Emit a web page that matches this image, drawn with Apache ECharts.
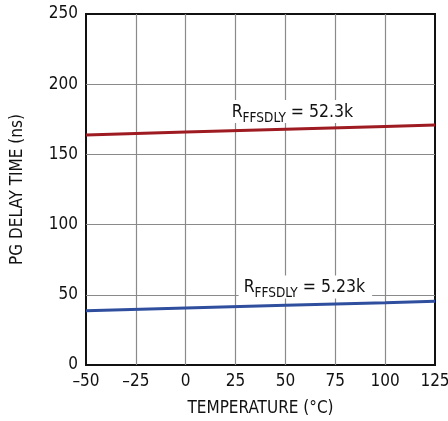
<!DOCTYPE html>
<html>
<head>
<meta charset="utf-8">
<script src="https://cdn.jsdelivr.net/npm/echarts@6/dist/echarts.min.js"></script>
<style>html,body{margin:0;padding:0;background:#fff}#c{width:448px;height:421px}</style>
</head>
<body>
<div id="c"></div>
<script>
const temperatures = [-50, 0, 50, 100, 125];
const delay52k = [163.8, 165.9, 167.9, 169.9, 170.9];
const delay5k = [38.7, 40.6, 42.5, 44.4, 45.4];
const xTicks = [-50, -25, 0, 25, 50, 75, 100, 125];
const yTicks = [0, 50, 100, 150, 200, 250];
const labels = [
  { sub: 'FFSDLY', rest: ' = 52.3k', at: [54, 180.5] },
  { sub: 'FFSDLY', rest: ' = 5.23k', at: [60, 55.5] }
];

const FONT = "'Liberation Sans Narrow', 'DejaVu Sans Condensed', sans-serif";
const chart = echarts.init(document.getElementById('c'), null, { renderer: 'canvas' });

function pairs(xs, ys) { return xs.map((x, i) => [x, ys[i]]); }

function labelPoint(l) {
  return {
    symbol: 'rect',
    symbolSize: [1, 1],
    itemStyle: { color: 'rgba(0,0,0,0)' },
    silent: true,
    data: [{
      coord: l.at,
      label: {
        show: true,
        position: 'inside',
        formatter: '{r|R}{s|' + l.sub + '}{r|' + l.rest + '}',
        backgroundColor: '#fff',
        padding: [3, 7, 0, 5],
        rich: {
          r: { fontFamily: FONT, fontSize: 17.5, color: '#111', lineHeight: 20, verticalAlign: 'top' },
          s: { fontFamily: FONT, fontSize: 13.5, color: '#111', lineHeight: 14, verticalAlign: 'top', padding: [8, 0, 0, 0] }
        }
      }
    }]
  };
}

const option = {
  animation: false,
  backgroundColor: '#fff',
  grid: { left: 86, right: 13, top: 14, bottom: 56, show: true, borderColor: '#111', borderWidth: 2, backgroundColor: 'transparent', outerBoundsMode: 'none', containLabel: false },
  xAxis: {
    type: 'value', min: -50, max: 125, interval: 25,
    name: 'TEMPERATURE (°C)', nameLocation: 'middle', nameGap: 35,
    nameTextStyle: { fontFamily: FONT, fontSize: 17, color: '#111' },
    axisLine: { show: false }, axisTick: { show: false },
    axisLabel: { fontFamily: FONT, fontSize: 17, color: '#111', margin: 8,
      formatter: v => xTicks.includes(v) ? String(v).replace('-', '\u2013') : '' },
    splitLine: { show: true, showMinLine: false, showMaxLine: false, lineStyle: { color: '#8a8a8a', width: 1.2 } }
  },
  yAxis: {
    type: 'value', min: 0, max: 250, interval: 50,
    name: 'PG DELAY TIME (ns)', nameLocation: 'middle', nameGap: 60, nameRotate: 90,
    nameTextStyle: { fontFamily: FONT, fontSize: 17, color: '#111' },
    axisLine: { show: false }, axisTick: { show: false },
    axisLabel: { fontFamily: FONT, fontSize: 17, color: '#111', margin: 8,
      formatter: v => yTicks.includes(v) ? String(v) : '' },
    splitLine: { show: true, showMinLine: false, showMaxLine: false, lineStyle: { color: '#8a8a8a', width: 1.2 } }
  },
  series: [
    { type: 'line', data: pairs(temperatures, delay52k), showSymbol: false, lineStyle: { color: '#9e1b22', width: 3 }, z: 3, markPoint: labelPoint(labels[0]) },
    { type: 'line', data: pairs(temperatures, delay5k), showSymbol: false, lineStyle: { color: '#2f4f9e', width: 3 }, z: 3, markPoint: labelPoint(labels[1]) }
  ]
};
chart.setOption(option);
</script>
</body>
</html>
